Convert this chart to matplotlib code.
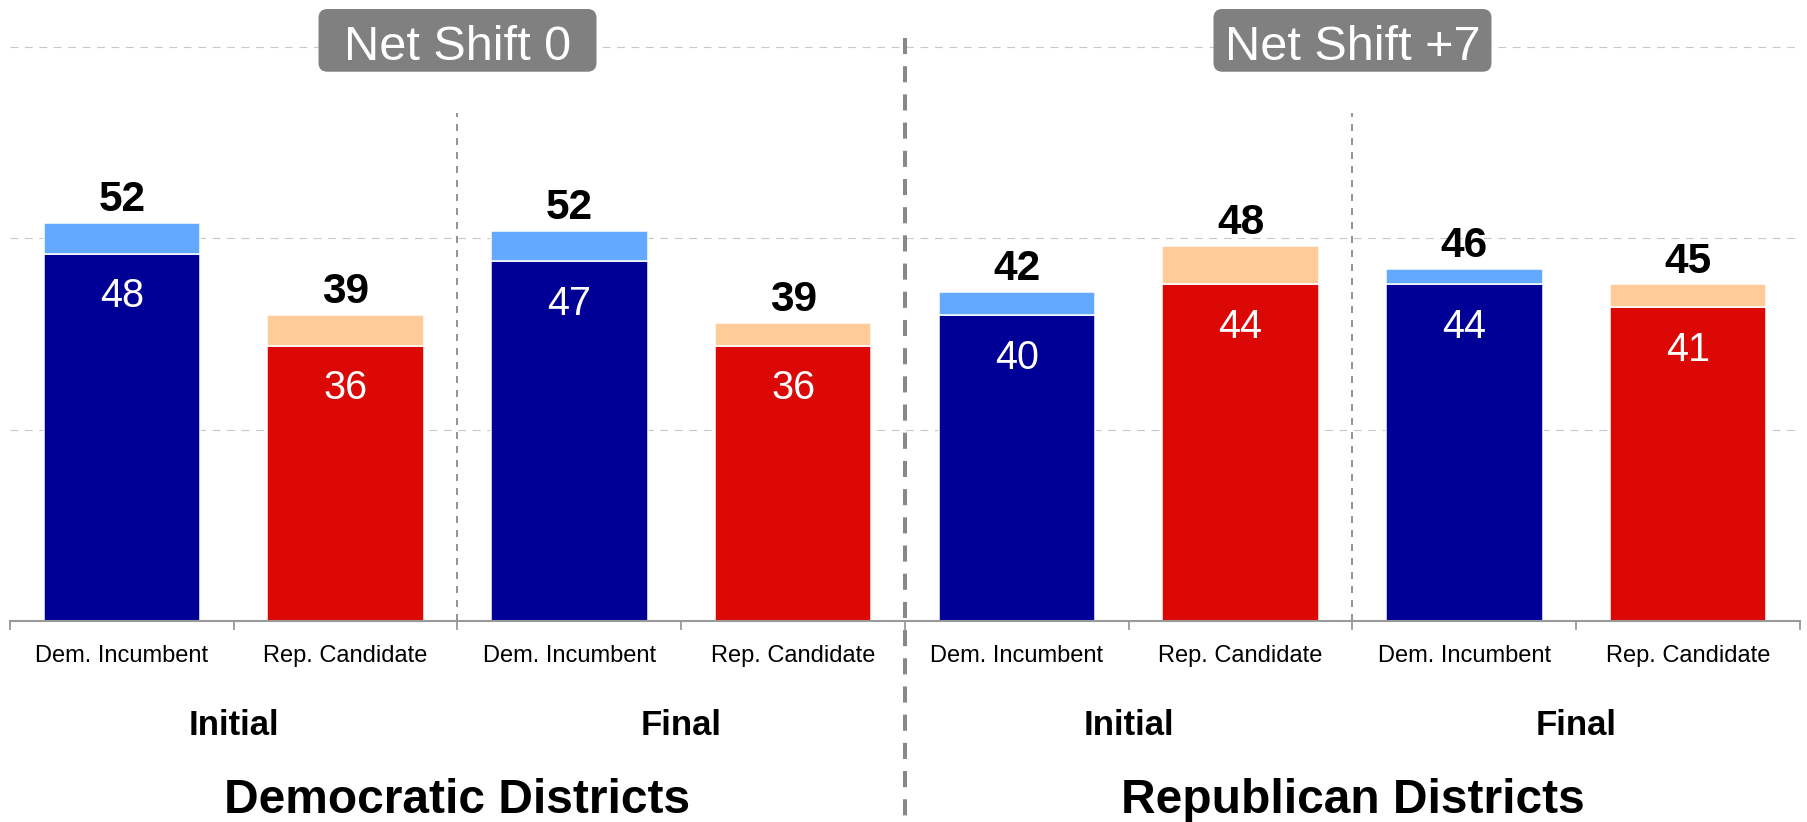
import matplotlib
matplotlib.use("Agg")
import matplotlib.pyplot as plt
import matplotlib.transforms as mtransforms
from matplotlib.lines import Line2D
from matplotlib.patches import FancyBboxPatch
import numpy as np

plt.rcParams['font.family'] = ['Liberation Sans', 'DejaVu Sans']

# data
districts = ['Democratic Districts', 'Republican Districts']
phases = ['Initial', 'Final']
candidates = ['Dem. Incumbent', 'Rep. Candidate']
base = [48, 36, 47, 36, 40, 44, 44, 41]    # committed vote
lean = [4, 4, 4, 3, 3, 5, 2, 3]            # leaners on top
totals = [52, 39, 52, 39, 42, 48, 46, 45]  # labels above bars
net_shift = ['Net Shift 0', 'Net Shift +7']

dem_col, dem_lean = '#000096', '#63a9ff'
rep_col, rep_lean = '#dc0805', '#ffcc99'

n = len(base)
x = np.arange(n)
base_cols = [dem_col if i % 2 == 0 else rep_col for i in range(n)]
lean_cols = [dem_lean if i % 2 == 0 else rep_lean for i in range(n)]

fig = plt.figure(figsize=(18.08, 8.22), dpi=100)
ax = fig.add_axes([10 / 1808, 1 - 621 / 822, 1790 / 1808, 612 / 822])
ax.set_xlim(-0.5, n - 0.5)
ax.set_ylim(0, 80)

ax.bar(x, base, width=0.7, color=base_cols, edgecolor='white', linewidth=1.1)
ax.bar(x, lean, bottom=base, width=0.7, color=lean_cols, edgecolor='white', linewidth=1.1)

for i in range(n):
    ax.annotate(str(totals[i]), (x[i], base[i] + lean[i]), xytext=(0, 8.5),
                textcoords='offset points', ha='center', va='baseline',
                fontsize=30.5, fontweight='bold', color='black')
    ax.annotate(str(base[i]), (x[i], base[i]), xytext=(0, -17),
                textcoords='offset points', ha='center', va='top',
                fontsize=28.5, color='white')

# grid, spines, ticks
ax.set_yticks([25, 50, 75])
ax.yaxis.grid(True, color='#c8c8c8', linewidth=0.8, linestyle=(0, (7, 6)))
ax.set_axisbelow(True)
ax.tick_params(axis='y', left=False, labelleft=False)
for s in ['left', 'right', 'top']:
    ax.spines[s].set_visible(False)
ax.spines['bottom'].set_color('#999999')
ax.spines['bottom'].set_linewidth(1.5)

ax.set_xticks(np.arange(-0.5, n), labels=[])
ax.tick_params(axis='x', which='major', length=6.5, width=1.3, color='#999999', direction='out')
ax.set_xticks(x, labels=candidates * 4, minor=True)
ax.tick_params(axis='x', which='minor', length=0, pad=17, labelsize=17)

# dividers between initial / final
for g in range(2):
    ax.plot([4 * g + 1.5] * 2, [0, 66.4], color='#808080', linewidth=1.2,
            linestyle=(0, (4.2, 4.2)))

tr = mtransforms.blended_transform_factory(ax.transData, fig.transFigure)
fig.add_artist(Line2D([3.5, 3.5], [1 - 38 / 822, 0], transform=tr, color='#888888',
                      linewidth=2.9, linestyle=(0, (4, 3))))

# net shift boxes
px_x = 1790 / n          # pixels per x unit
px_y = 612 / 80          # pixels per y unit
for g in range(2):
    cx = 4 * g + 1.5
    w = 278 / px_x
    box = FancyBboxPatch((cx - w / 2, 71.8), w, 8.2,
                         boxstyle='round,pad=0,rounding_size=0.04',
                         mutation_aspect=px_x / px_y, fc='#808080', ec='none',
                         clip_on=False, zorder=4)
    ax.add_patch(box)
    ax.text(cx, 73.3, net_shift[g], ha='center', va='baseline', fontsize=35,
            color='white', zorder=5)

# phase and district labels
for g in range(2):
    for p in range(2):
        fig.text(4 * g + 2 * p + 0.5, 1 - 735 / 822, phases[p], transform=tr,
                 ha='center', va='baseline', fontsize=25, fontweight='bold')
    fig.text(4 * g + 1.5, 1 - 813 / 822, districts[g], transform=tr, ha='center',
             va='baseline', fontsize=34.5, fontweight='bold')

fig.savefig('out.png', dpi=100)
